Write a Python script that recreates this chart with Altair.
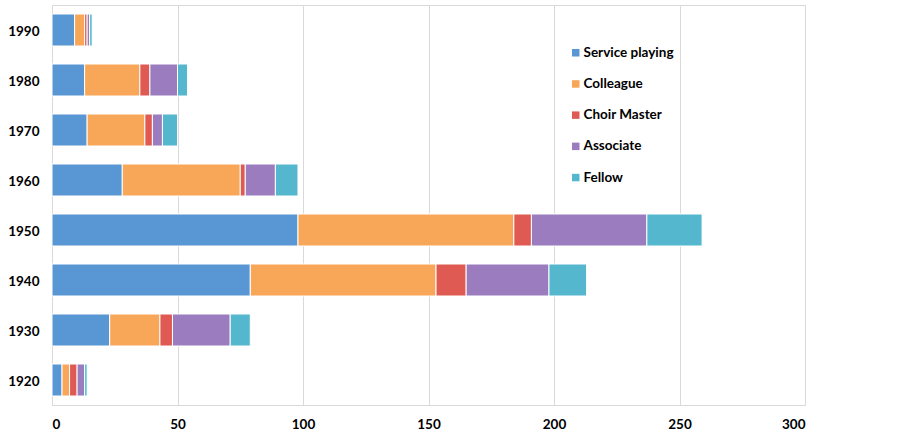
import altair as alt
import pandas as pd

years = ["1990", "1980", "1970", "1960", "1950", "1940", "1930", "1920"]
series = ["Service playing", "Colleague", "Choir Master", "Associate", "Fellow"]
service_playing = [9, 13, 14, 28, 98, 79, 23, 4]
colleague = [4, 22, 23, 47, 86, 74, 20, 3]
choir_master = [1, 4, 3, 2, 7, 12, 5, 3]
associate = [1, 11, 4, 12, 46, 33, 23, 3]
fellow = [1, 4, 6, 9, 22, 15, 8, 1]
colors = ["#5897D4", "#F8A658", "#DF5A52", "#9B7DBF", "#54B7CE"]
x_ticks = [0, 50, 100, 150, 200, 250, 300]

values = [service_playing, colleague, choir_master, associate, fellow]
rows = []
for i, (name, vals) in enumerate(zip(series, values)):
    for y, v in zip(years, vals):
        rows.append({"year": y, "series": name, "value": v, "idx": i})
df = pd.DataFrame(rows)

FONT = "Lato"

chart = alt.Chart(df).mark_bar(stroke="white", strokeWidth=1).encode(
    y=alt.Y(
        "year:N",
        sort=years,
        scale=alt.Scale(paddingInner=0.36, paddingOuter=0.18),
        axis=alt.Axis(
            title=None,
            ticks=False,
            domainColor="#d9d9d9",
            labelFont=FONT,
            labelFontWeight="bold",
            labelFontSize=13.5,
            labelColor="#000000",
            labelPadding=13,
            labelOffset=2,
        ),
    ),
    x=alt.X(
        "value:Q",
        stack="zero",
        scale=alt.Scale(domain=[0, 300], nice=False),
        axis=alt.Axis(
            title=None,
            values=x_ticks,
            grid=True,
            gridColor="#d9d9d9",
            domain=True,
            domainColor="#d9d9d9",
            ticks=False,
            labelFont=FONT,
            labelFontWeight="bold",
            labelFontSize=13.5,
            labelColor="#000000",
            labelPadding=12,
        ),
    ),
    color=alt.Color(
        "series:N",
        sort=series,
        scale=alt.Scale(domain=series, range=colors),
        legend=alt.Legend(
            title=None,
            orient="none",
            legendX=517,
            legendY=41,
            symbolType="square",
            symbolSize=56,
            symbolStrokeWidth=0,
            labelFont=FONT,
            labelFontWeight="bold",
            labelFontSize=13.5,
            labelColor="#000000",
            labelOffset=1,
            rowPadding=16.2,
            padding=0,
        ),
    ),
    order=alt.Order("idx:Q"),
).properties(
    width=753,
    height=400,
    autosize=alt.AutoSizeParams(type="none"),
    padding={"left": 52, "top": 5, "right": 116, "bottom": 33},
).configure_view(stroke="#d9d9d9")

chart.save("out.html", embed_options={"renderer": "svg", "actions": False})
